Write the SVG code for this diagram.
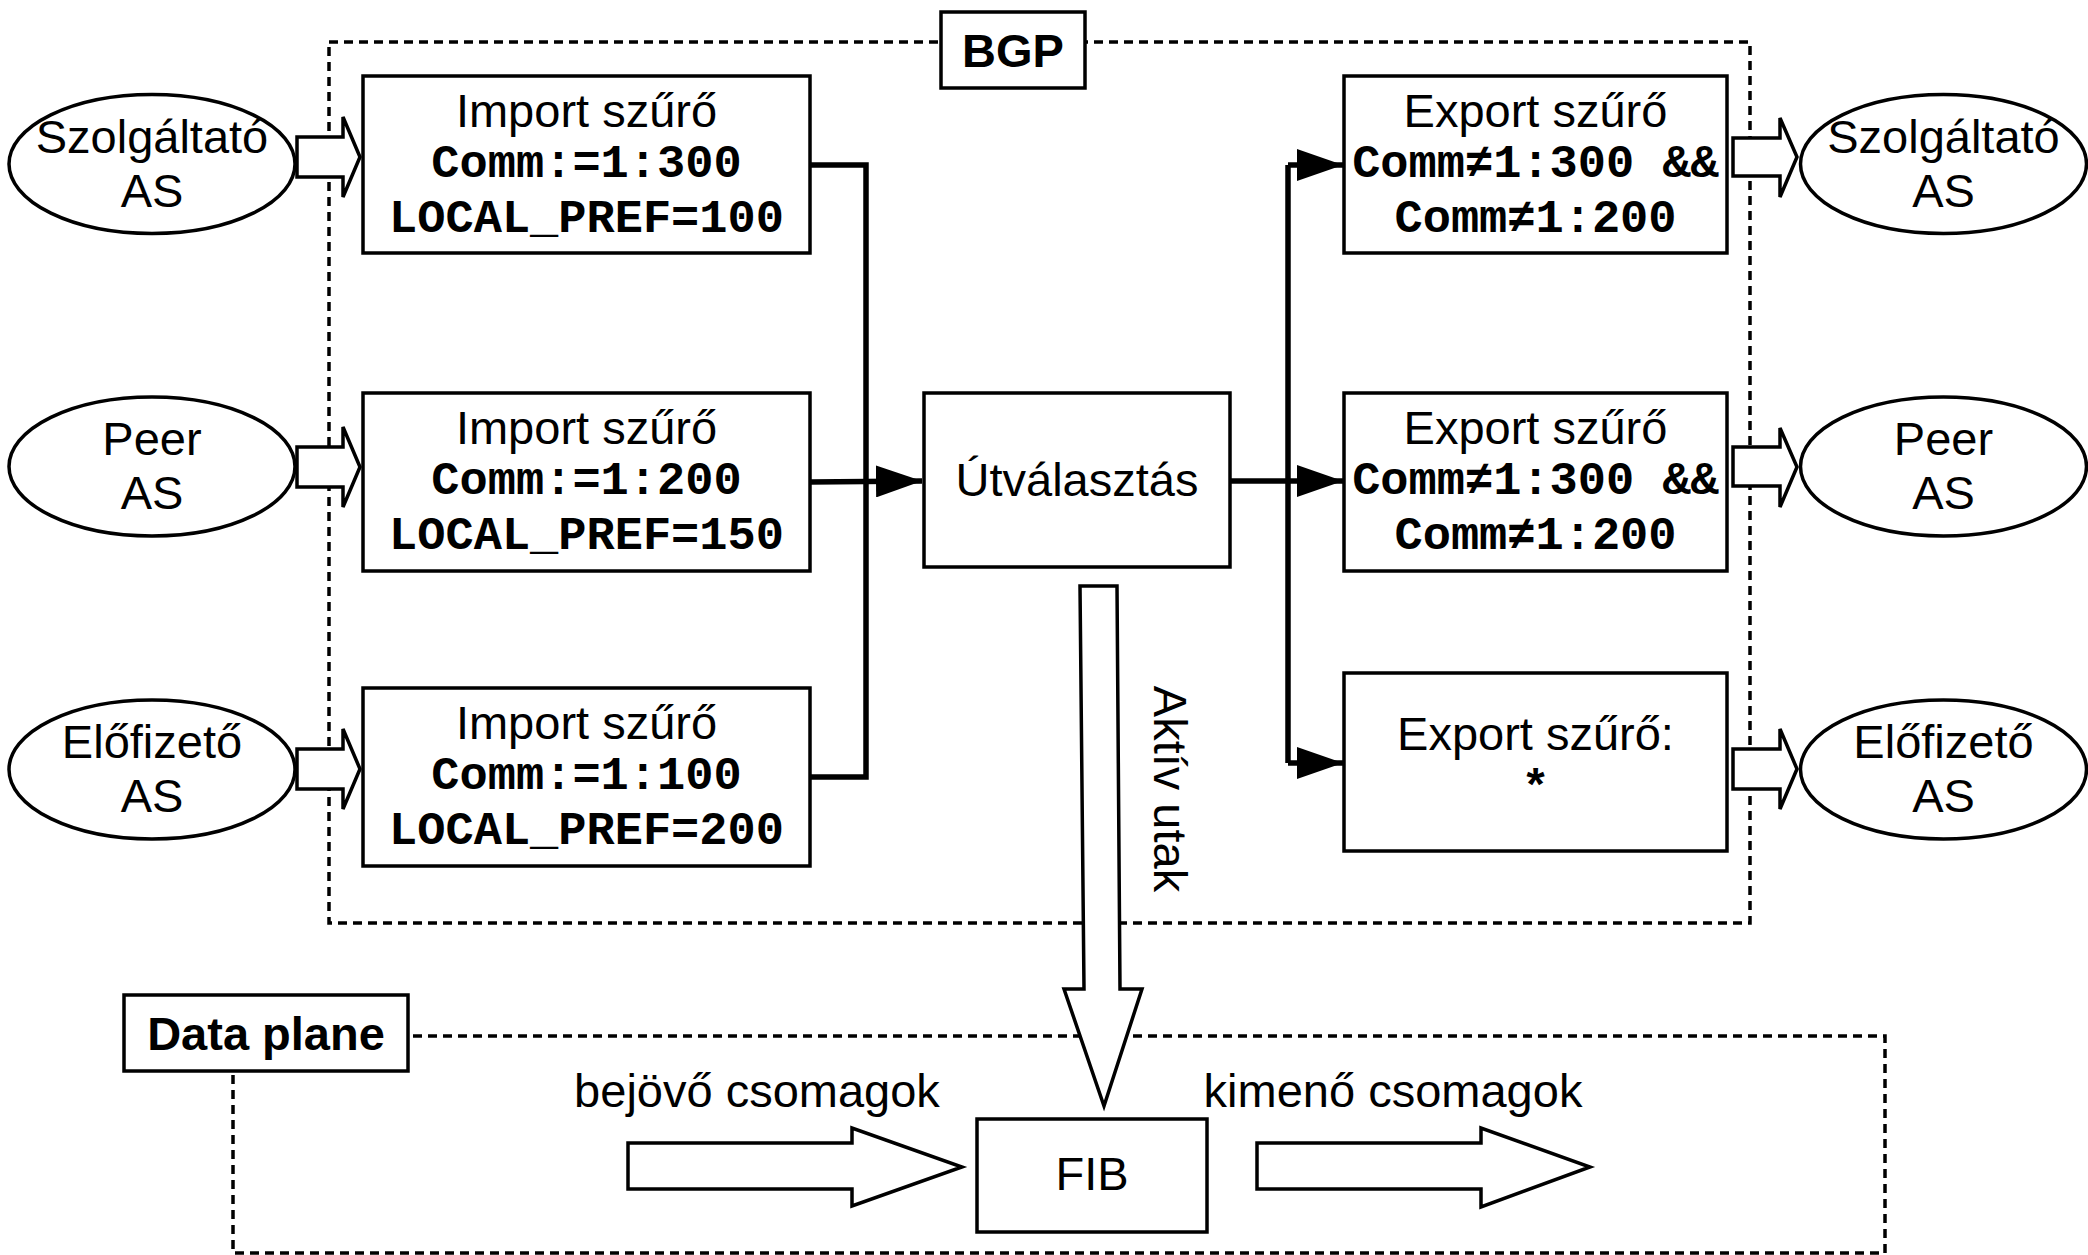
<svg xmlns="http://www.w3.org/2000/svg" width="2088" height="1255" viewBox="0 0 2088 1255">
<style>
.bg{fill:#fff}
.box{fill:#fff;stroke:#000;stroke-width:3.5}
.ell{fill:#fff;stroke:#000;stroke-width:3.5}
.dash{fill:none;stroke:#000;stroke-width:3.5;stroke-dasharray:9 6}
.blk{fill:#fff;stroke:#000;stroke-width:3.5;stroke-linejoin:miter}
.con{fill:none;stroke:#000;stroke-width:5.5}
.t{font-family:"Liberation Sans",Arial,sans-serif;font-size:47px;fill:#000;text-anchor:middle}
.b{font-family:"Liberation Sans",Arial,sans-serif;font-size:47px;font-weight:bold;fill:#000;text-anchor:middle}
.m{font-family:"Liberation Mono","Courier New","DejaVu Sans Mono",monospace;font-size:47px;font-weight:bold;fill:#000;text-anchor:middle}
</style>
<defs>
<marker id="ah" markerUnits="userSpaceOnUse" markerWidth="46" markerHeight="32" refX="46" refY="16" orient="auto">
<path d="M0,0 L46,16 L0,32 z" fill="#000"/>
</marker>
</defs>
<rect class="bg" x="0" y="0" width="2088" height="1255"/>

<g id="bgp-frame">
<rect class="dash" x="329" y="42" width="1421" height="881"/>
<rect class="box" x="941" y="12" width="144" height="76"/>
<text class="b" x="1013" y="67" font-size="48">BGP</text>
</g>

<g id="dataplane-frame">
<rect class="dash" x="233" y="1036" width="1652" height="217"/>
<rect class="box" x="124" y="995" width="284" height="76"/>
<text class="b" x="266" y="1050">Data plane</text>
</g>

<g id="connectors">
<path class="con" d="M810,165 H866 V777 H810"/>
<path class="con" d="M810,482 L922,481" marker-end="url(#ah)"/>
<path class="con" d="M1230,481 H1288"/>
<path class="con" d="M1288,165 V763"/>
<path class="con" d="M1288,165 H1343" marker-end="url(#ah)"/>
<path class="con" d="M1288,481 H1343" marker-end="url(#ah)"/>
<path class="con" d="M1288,763 H1343" marker-end="url(#ah)"/>
<polygon class="blk" points="297,137 343,137 343,117 360,157 343,197 343,177 297,177"/>
<polygon class="blk" points="297,447 343,447 343,427 360,467 343,507 343,487 297,487"/>
<polygon class="blk" points="297,749 343,749 343,729 360,769 343,809 343,789 297,789"/>
<polygon class="blk" points="1733,138 1780,138 1780,118 1797,157 1780,197 1780,176 1733,176"/>
<polygon class="blk" points="1733,447 1780,447 1780,428 1797,467 1780,507 1780,486 1733,486"/>
<polygon class="blk" points="1733,749 1780,749 1780,729 1797,769 1780,809 1780,789 1733,789"/>
<polygon class="blk" points="1080,586 1117,586 1120,989 1142,989 1104,1106 1064,989 1084,989"/>
<polygon class="blk" points="628,1143 852,1143 852,1128 962,1167 852,1206 852,1189 628,1189"/>
<polygon class="blk" points="1257,1143 1481,1143 1481,1128 1590,1167 1481,1207 1481,1189 1257,1189"/>
<text class="t" transform="translate(1154,789) rotate(90)">Aktív utak</text>
<text class="t" x="757" y="1107">bejövő csomagok</text>
<text class="t" x="1393" y="1107">kimenő csomagok</text>
</g>

<g id="src-szolgaltato">
<ellipse class="ell" cx="152" cy="164" rx="143" ry="69.5"/>
<text class="t" x="152" y="153">Szolgáltató</text>
<text class="t" x="152" y="207">AS</text>
</g>
<g id="src-peer">
<ellipse class="ell" cx="152" cy="466.5" rx="143" ry="69.5"/>
<text class="t" x="152" y="455">Peer</text>
<text class="t" x="152" y="509">AS</text>
</g>
<g id="src-elofizeto">
<ellipse class="ell" cx="152" cy="769.5" rx="143" ry="69.5"/>
<text class="t" x="152" y="758">Előfizető</text>
<text class="t" x="152" y="812">AS</text>
</g>

<g id="import-1">
<rect class="box" x="363" y="76" width="447" height="177"/>
<text class="t" x="586.5" y="127">Import szűrő</text>
<text class="m" x="586.5" y="177">Comm:=1:300</text>
<text class="m" x="586.5" y="232">LOCAL_PREF=100</text>
</g>
<g id="import-2">
<rect class="box" x="363" y="393" width="447" height="178"/>
<text class="t" x="586.5" y="444">Import szűrő</text>
<text class="m" x="586.5" y="494">Comm:=1:200</text>
<text class="m" x="586.5" y="549">LOCAL_PREF=150</text>
</g>
<g id="import-3">
<rect class="box" x="363" y="688" width="447" height="178"/>
<text class="t" x="586.5" y="739">Import szűrő</text>
<text class="m" x="586.5" y="789">Comm:=1:100</text>
<text class="m" x="586.5" y="844">LOCAL_PREF=200</text>
</g>

<g id="routing">
<rect class="box" x="924" y="393" width="306" height="174"/>
<text class="t" x="1077" y="496">Útválasztás</text>
</g>

<g id="export-1">
<rect class="box" x="1344" y="76" width="383" height="177"/>
<text class="t" x="1535.5" y="127">Export szűrő</text>
<text class="m" x="1535.5" y="177">Comm≠1:300 &amp;&amp;</text>
<text class="m" x="1535.5" y="232">Comm≠1:200</text>
</g>
<g id="export-2">
<rect class="box" x="1344" y="393" width="383" height="178"/>
<text class="t" x="1535.5" y="444">Export szűrő</text>
<text class="m" x="1535.5" y="494">Comm≠1:300 &amp;&amp;</text>
<text class="m" x="1535.5" y="549">Comm≠1:200</text>
</g>
<g id="export-3">
<rect class="box" x="1344" y="673" width="383" height="178"/>
<text class="t" x="1535.5" y="750">Export szűrő:</text>
<text class="m" x="1535.5" y="802">*</text>
</g>

<g id="dst-szolgaltato">
<ellipse class="ell" cx="1943.5" cy="164" rx="143" ry="69.5"/>
<text class="t" x="1943.5" y="153">Szolgáltató</text>
<text class="t" x="1943.5" y="207">AS</text>
</g>
<g id="dst-peer">
<ellipse class="ell" cx="1943.5" cy="466.5" rx="143" ry="69.5"/>
<text class="t" x="1943.5" y="455">Peer</text>
<text class="t" x="1943.5" y="509">AS</text>
</g>
<g id="dst-elofizeto">
<ellipse class="ell" cx="1943.5" cy="769.5" rx="143" ry="69.5"/>
<text class="t" x="1943.5" y="758">Előfizető</text>
<text class="t" x="1943.5" y="812">AS</text>
</g>

<g id="fib">
<rect class="box" x="977" y="1119" width="230" height="113"/>
<text class="t" x="1092" y="1190">FIB</text>
</g>
</svg>
